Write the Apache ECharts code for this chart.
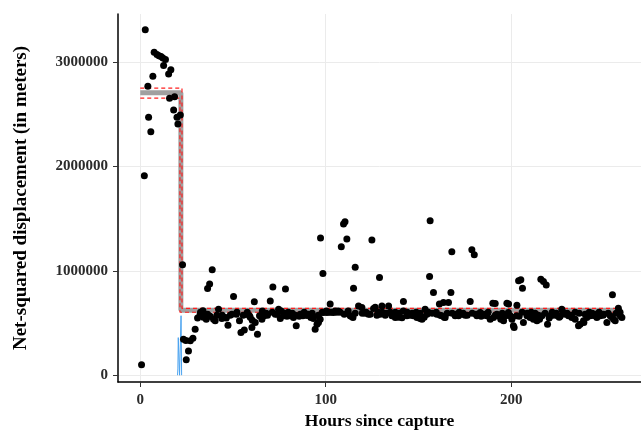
<!DOCTYPE html>
<html>
<head>
<meta charset="utf-8">
<script src="https://cdn.jsdelivr.net/npm/echarts@6/dist/echarts.min.js"></script>
<style>
  html, body { margin: 0; padding: 0; background: #fff; }
  #chart { width: 641px; height: 430px; }
</style>
</head>
<body>
<div id="chart"></div>
<script>
// observed points (hours since capture, net-squared displacement)
const hours = [
  0.7, 2.7, 2.2, 4.1, 4.5, 5.7, 6.8, 7.5, 9.0, 10.1, 11.2, 12.2, 13.6, 12.6, 16.5, 15.3, 15.8, 18.5, 18.0, 19.8, 21.6, 20.3, 22.8,
  23.3, 24.6, 27.0, 28.4, 26.0, 24.8, 29.6, 30.9, 32.3, 33.8, 35.0, 36.3, 36.3, 37.4, 38.8, 40.4, 42.2, 44.0, 45.8, 47.3, 49.4,
  50.3, 51.8, 53.5, 54.3, 56.1, 57.5, 58.9, 60.2, 61.5, 62.0, 63.2, 64.3, 65.6, 66.8, 68.6, 70.1, 71.5, 72.8, 74.6, 75.5, 77.3,
  78.3, 79.1, 80.9, 82.6, 84.1, 86.3, 87.7, 89.9, 92.0, 93.4, 94.3, 96.1, 97.0, 97.2, 98.5, 98.8, 100.6, 102.4, 104.2, 106.0,
  108.4, 109.6, 110.4, 111.4, 113.2, 114.7, 115.0, 115.9, 117.7, 119.5, 121.3, 123.1, 124.9, 125.8, 127.6, 129.0, 129.4, 130.3,
  132.1, 133.9, 135.7, 137.5, 139.2, 141.1, 141.9, 143.8, 145.6, 147.3, 149.2, 150.9, 151.9, 153.6, 154.6, 156.3, 156.0, 158.1,
  159.9, 161.3, 162.6, 164.4, 166.2, 167.5, 168.0, 169.8, 171.6, 173.4, 175.2, 177.9, 178.8, 180.1, 181.5, 183.3, 185.1, 186.9,
  188.7, 190.1, 190.5, 192.3, 193.2, 194.4, 195.9, 196.8, 197.7, 198.5, 199.5, 200.4, 201.2, 201.6, 203.1, 202.9, 204.0, 205.2,
  206.1, 206.6, 208.5, 210.2, 212.0, 213.9, 215.3, 216.0, 217.4, 218.9, 216.6, 219.6, 221.0, 222.8, 225.0, 226.4, 227.3, 229.1,
  230.9, 232.7, 234.5, 236.3, 237.2, 239.0, 240.8, 242.6, 244.4, 246.2, 248.0, 249.8, 251.6, 253.4, 254.6, 255.2, 256.1, 258.8, 259.7,
  // dense band after the switch
  32.5, 34.0, 35.6, 37.7, 39.5, 41.3, 44.2, 46.4, 48.5, 52.1, 55.5, 57.7, 59.3, 60.4, 65.8, 67.9, 71.2, 73.9, 76.0, 77.6,
  79.8, 82.0, 83.6, 85.7, 88.4, 90.6, 92.7, 96.0, 98.1, 100.3, 101.9, 103.0, 105.1, 106.7, 107.8, 110.0, 112.1, 113.7, 115.9, 119.7,
  121.8, 124.0, 126.7, 128.3, 130.5, 132.6, 134.8, 137.5, 139.6, 141.8, 143.9, 146.6, 148.8, 150.9, 153.1, 155.3, 157.4, 159.6, 161.7, 163.9,
  165.5, 168.2, 170.4, 172.0, 174.1, 176.3, 179.0, 181.1, 183.8, 186.0, 187.6, 191.4, 195.2, 197.8, 200.5, 204.3, 205.9, 208.6, 210.8, 212.9,
  214.6, 218.3, 220.5, 222.1, 224.3, 225.9, 228.0, 230.2, 232.4, 234.5, 236.7, 239.9, 242.1, 243.7, 245.8, 247.4, 249.6, 252.3, 254.4, 256.6,
  258.7, 191.4, 198.6, 257.8, 163.5, 95.3, 239.2
];
const nsd = [
  100000, 3310000, 1910000, 2768000, 2471000, 2333000, 2864000, 3094000, 3071000, 3061000, 3052000, 3039000, 3023000, 2966000, 2927000, 2886000, 2653000, 2668000, 2541000, 2471000, 2493000, 2407000, 1058000,
  345000, 333000, 329000, 355000, 233000, 147000, 441000, 547000, 585000, 617000, 569000, 585000, 831000, 873000, 1010000, 521000, 633000, 544000, 553000, 479000, 585000,
  755000, 585000, 521000, 409000, 434000, 585000, 569000, 457000, 703000, 505000, 393000, 569000, 537000, 569000, 575000, 712000, 844000, 585000, 633000, 544000, 569000,
  825000, 565000, 570000, 553000, 473000, 585000, 569000, 572000, 553000, 544000, 441000, 505000, 537000, 1314000, 975000, 601000, 600000, 681000, 601000, 603000,
  1230000, 1448000, 1470000, 1304000, 569000, 553000, 834000, 1033000, 664000, 649000, 594000, 585000, 1294000, 640000, 575000, 937000, 585000, 664000,
  575000, 664000, 569000, 553000, 555000, 550000, 707000, 569000, 575000, 569000, 553000, 544000, 537000, 633000, 585000, 1479000, 946000, 793000,
  585000, 681000, 569000, 553000, 697000, 793000, 1182000, 569000, 569000, 585000, 575000, 707000, 1201000, 1153000, 569000, 601000, 585000, 569000,
  537000, 690000, 553000, 585000, 569000, 537000, 521000, 569000, 690000, 601000, 569000, 537000, 473000, 457000, 671000, 569000, 904000, 914000,
  834000, 505000, 569000, 553000, 537000, 521000, 537000, 920000, 898000, 863000, 569000, 489000, 569000, 575000, 569000, 565000, 633000, 585000,
  569000, 553000, 537000, 473000, 489000, 521000, 553000, 569000, 572000, 553000, 569000, 585000, 505000, 569000, 770000, 537000, 521000, 569000, 553000,
  604000, 556000, 537000, 566000, 537000, 575000, 575000, 547000, 575000, 604000, 575000, 604000, 556000, 527000, 614000, 594000, 604000, 585000, 614000, 594000,
  604000, 594000, 575000, 566000, 604000, 585000, 594000, 575000, 604000, 614000, 604000, 604000, 614000, 614000, 604000, 585000, 614000, 566000, 594000, 594000,
  604000, 585000, 652000, 604000, 604000, 594000, 604000, 604000, 594000, 614000, 604000, 594000, 604000, 594000, 556000, 604000, 594000, 604000, 575000, 556000,
  594000, 594000, 585000, 604000, 594000, 575000, 594000, 585000, 566000, 575000, 604000, 575000, 594000, 575000, 556000, 566000, 604000, 594000, 604000, 594000,
  575000, 594000, 547000, 604000, 594000, 556000, 604000, 594000, 575000, 604000, 594000, 585000, 604000, 594000, 585000, 604000, 575000, 594000, 556000, 594000,
  604000, 687000, 681000, 642000, 697000, 489000, 505000
];

// fitted step model (mean) and its bounds
const meanHours = [0, 21.9, 21.9, 259];
const meanValues = [2705000, 2705000, 623000, 623000];
const upperHours = [0, 22.5, 22.5, 259];
const upperValues = [2750000, 2750000, 640000, 640000];
const lowerHours = [0, 21.4, 21.4, 259];
const lowerValues = [2655000, 2655000, 603000, 603000];

// change-point density trace
const densHours = [20.1, 20.3, 20.5, 21.0, 21.2, 21.8, 22.0, 22.3];
const densValues = [0, 60000, 360000, 370000, 0, 0, 570000, 0];

const yTicks = [0, 1000000, 2000000, 3000000];
const xTicks = [0, 100, 200];

const zip = (a, b) => a.map((v, i) => [v, b[i]]);

const chart = echarts.init(document.getElementById('chart'));
const serif = '"Liberation Serif", "DejaVu Serif", serif';

const option = {
  animation: false,
  backgroundColor: '#fff',
  grid: { left: 118, right: 0, top: 14, bottom: 48, containLabel: false, outerBoundsMode: 'none' },
  xAxis: {
    type: 'value',
    min: -12,
    max: 270,
    name: 'Hours since capture',
    nameLocation: 'middle',
    nameGap: 29,
    nameTextStyle: { fontFamily: serif, fontWeight: 'bold', fontSize: 17.5, color: '#000' },
    axisLine: { show: true, onZero: false, lineStyle: { color: '#000', width: 1.5 } },
    axisTick: { show: true, length: 5, customValues: xTicks, lineStyle: { color: '#333' } },
    axisLabel: {
      customValues: xTicks, formatter: v => String(v),
      fontFamily: serif, fontWeight: 'bold', fontSize: 15, color: '#2b2b2b', margin: 11
    },
    splitLine: { show: true, lineStyle: { color: '#ebebeb', width: 1 } }
  },
  yAxis: {
    type: 'value',
    min: -65000,
    max: 3460000,
    name: 'Net-squared displacement (in meters)',
    nameLocation: 'middle',
    nameGap: 87,
    nameTextStyle: { fontFamily: serif, fontWeight: 'bold', fontSize: 19, color: '#000' },
    axisLine: { show: true, onZero: false, lineStyle: { color: '#000', width: 1.5 } },
    axisTick: { show: true, length: 5, customValues: yTicks, lineStyle: { color: '#333' } },
    axisLabel: {
      customValues: yTicks, formatter: v => String(v),
      fontFamily: serif, fontWeight: 'bold', fontSize: 15, color: '#2b2b2b', margin: 10
    },
    splitLine: { show: true, lineStyle: { color: '#ebebeb', width: 1 } }
  },
  series: [
    {
      type: 'line',
      data: zip(densHours, densValues),
      showSymbol: false,
      lineStyle: { color: '#4aa3f0', width: 1 },
      z: 2
    },
    {
      type: 'line',
      data: zip(meanHours, meanValues),
      showSymbol: false,
      lineStyle: { color: '#a0a0a0', width: 5 },
      z: 3
    },
    {
      type: 'line',
      data: zip(upperHours, upperValues),
      showSymbol: false,
      lineStyle: { color: '#ff2020', width: 1.2, type: [4, 3] },
      z: 4
    },
    {
      type: 'line',
      data: zip(lowerHours, lowerValues),
      showSymbol: false,
      lineStyle: { color: '#ff2020', width: 1.2, type: [4, 3] },
      z: 4
    },
    {
      type: 'scatter',
      data: zip(hours, nsd),
      symbolSize: 7,
      itemStyle: { color: '#000', opacity: 1 },
      z: 5
    }
  ]
};

chart.setOption(option);
</script>
</body>
</html>
